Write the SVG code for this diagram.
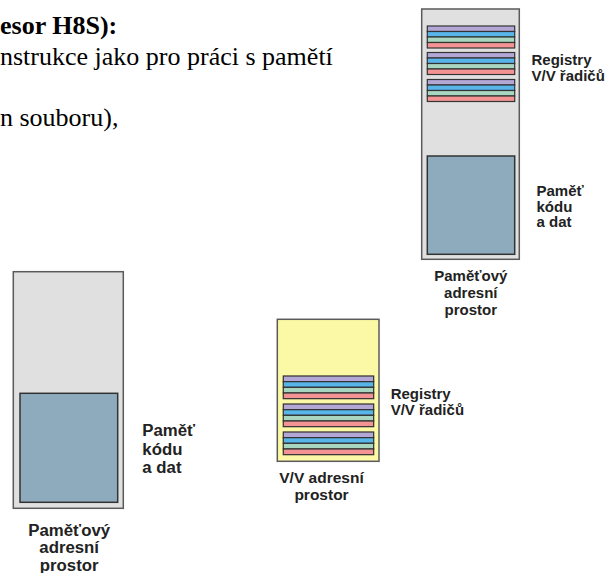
<svg xmlns="http://www.w3.org/2000/svg" width="614" height="573" viewBox="0 0 614 573">
  <style>
    .body { font-family: "Liberation Serif", "Times New Roman", serif; font-size: 26px; fill: #000; }
    .lbl { font-family: "Liberation Sans", Arial, sans-serif; font-weight: bold; fill: #222; }
    .space { fill: #e0e0e0; stroke: #5a5a5a; stroke-width: 1.5; }
    .io { fill: #fbf8a6; stroke: #5a5a5a; stroke-width: 1.5; }
    .mem { fill: #8eaabd; stroke: #333; stroke-width: 1.5; }
    .r1 { fill: #b3a7d6; stroke: #333; stroke-width: 1.2; }
    .r2 { fill: #58b5ea; stroke: #333; stroke-width: 1.2; }
    .r3 { fill: #a9d6c0; stroke: #333; stroke-width: 1.2; }
    .r4 { fill: #f39393; stroke: #333; stroke-width: 1.2; }
  </style>
  <defs>
    <!-- one block of controller registers: four coloured stripes -->
    <g id="regs">
      <rect class="r1" x="0" y="0" width="87.4" height="5.5"/>
      <rect class="r2" x="0" y="5.5" width="87.4" height="5.5"/>
      <rect class="r3" x="0" y="11" width="87.4" height="5.5"/>
      <rect class="r4" x="0" y="16.5" width="87.4" height="5.5"/>
    </g>
  </defs>

  <!-- body text -->
  <g id="text">
    <text class="body" x="0" y="34" font-weight="bold">esor H8S):</text>
    <text class="body" x="0" y="65">nstrukce jako pro práci s pamětí</text>
    <text class="body" x="0" y="126">n souboru),</text>
  </g>

  <!-- shared address space: memory + mapped registers -->
  <g id="mem-space-shared">
    <rect class="space" x="421.7" y="9" width="97.6" height="250.3"/>
    <use href="#regs" x="427.3" y="26"/>
    <use href="#regs" x="427.3" y="52.5"/>
    <use href="#regs" x="427.3" y="79.5"/>
    <rect class="mem" x="427.3" y="156" width="87.4" height="98.3"/>
    <text class="lbl" font-size="15" x="531.5" y="65">Registry</text>
    <text class="lbl" font-size="15" x="531.5" y="80.7">V/V řadičů</text>
    <text class="lbl" font-size="15" x="536.5" y="196">Paměť</text>
    <text class="lbl" font-size="15" x="536.5" y="211.5">kódu</text>
    <text class="lbl" font-size="15" x="536.5" y="227">a dat</text>
    <text class="lbl" font-size="15" x="470.8" y="281" text-anchor="middle">Paměťový</text>
    <text class="lbl" font-size="15" x="470.8" y="298" text-anchor="middle">adresní</text>
    <text class="lbl" font-size="15" x="470.8" y="315" text-anchor="middle">prostor</text>
  </g>

  <!-- separate memory address space -->
  <g id="mem-space">
    <rect class="space" x="13.3" y="271.7" width="110" height="236.6"/>
    <rect class="mem" x="20" y="393.3" width="97.7" height="109"/>
    <text class="lbl" font-size="16.8" x="142.3" y="435.7">Paměť</text>
    <text class="lbl" font-size="16.8" x="142.3" y="454.5">kódu</text>
    <text class="lbl" font-size="16.8" x="142.3" y="473.3">a dat</text>
    <text class="lbl" font-size="16.8" x="69.2" y="535.5" text-anchor="middle">Paměťový</text>
    <text class="lbl" font-size="16.8" x="69.2" y="553" text-anchor="middle">adresní</text>
    <text class="lbl" font-size="16.8" x="69.2" y="570.5" text-anchor="middle">prostor</text>
  </g>

  <!-- separate I/O address space -->
  <g id="io-space">
    <rect class="io" x="277.3" y="319.3" width="101.7" height="142"/>
    <use href="#regs" transform="translate(283.3 376) scale(1.034 1.03)"/>
    <use href="#regs" transform="translate(283.3 404) scale(1.034 1.03)"/>
    <use href="#regs" transform="translate(283.3 432) scale(1.034 1.03)"/>
    <text class="lbl" font-size="15" x="390.7" y="398.7">Registry</text>
    <text class="lbl" font-size="15" x="390.7" y="415">V/V řadičů</text>
    <text class="lbl" font-size="15.5" x="321.5" y="483.3" text-anchor="middle">V/V adresní</text>
    <text class="lbl" font-size="15.5" x="321.5" y="500" text-anchor="middle">prostor</text>
  </g>
</svg>
